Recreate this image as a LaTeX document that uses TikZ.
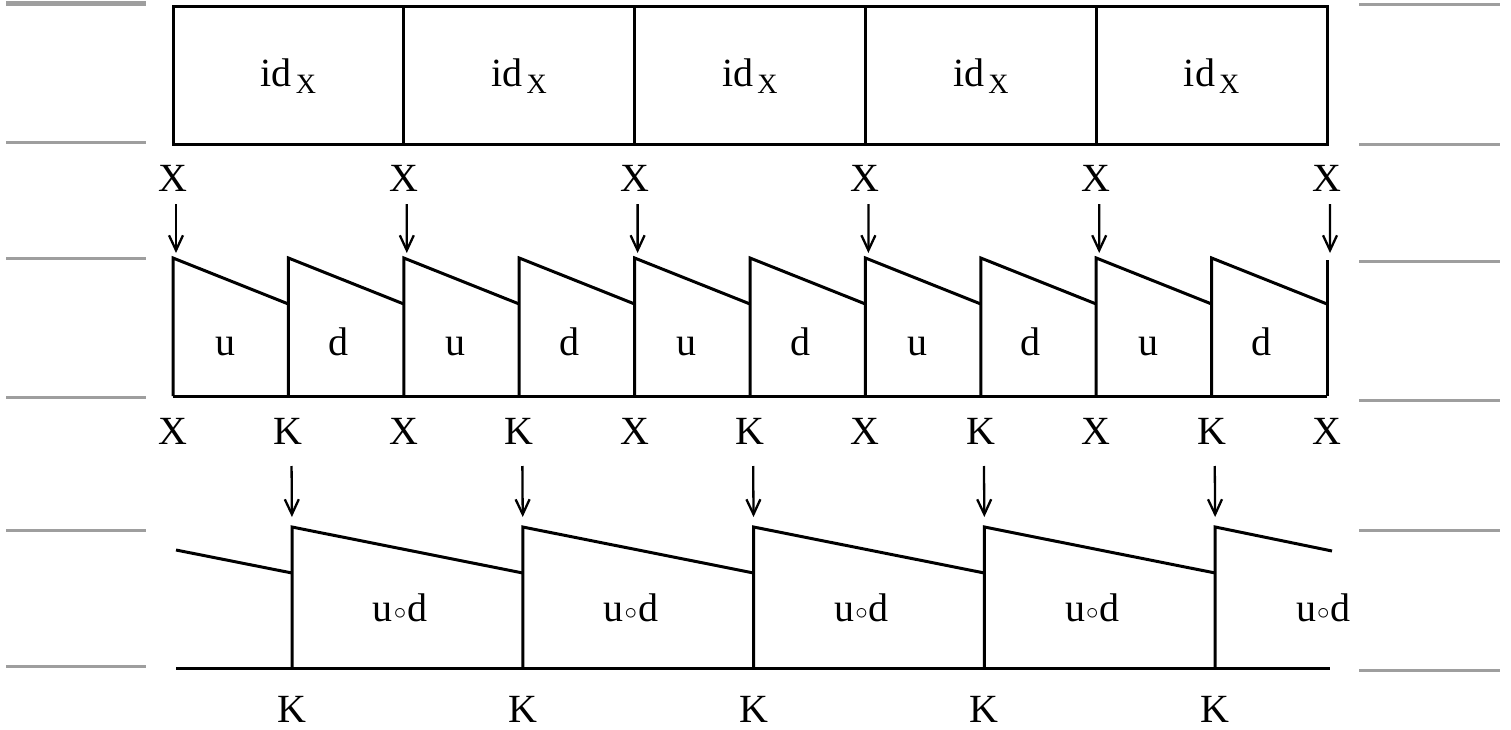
\documentclass[tikz,border=0pt]{standalone}
\usepackage{fontspec}
\setmainfont{Liberation Serif}
\usetikzlibrary{arrows.meta,calc}
\begin{document}
\begin{tikzpicture}[x=1pt,y=-1pt,
  blk/.style={line width=3pt, line join=miter},
  grayln/.style={draw=black!38, line width=3pt},
  lab/.style={inner sep=0pt, anchor=base, font=\fontsize{40}{44}\selectfont},
  idbox/.style={draw, line width=3pt, minimum width=230.8pt, minimum height=138pt, inner sep=0pt, font=\fontsize{40}{44}\selectfont},
  arr/.style={line width=2.3pt, -{Straight Barb[length=15pt,width=14pt,line width=2.3pt]}}]
\useasboundingbox (0,0) rectangle (1511,730);
% gray rules
\draw[grayln, line width=5pt] (6,3.5) -- (146,3.5);
\foreach \y in {143,258,397,530,666} \draw[grayln] (6,\y) -- (146,\y);
\foreach \y in {5,145,261,400,530,670} \draw[grayln] (1359,\y) -- (1500,\y);
% top boxes
\foreach \i in {0,...,4}
  \node[idbox] (id\i) at ({173+230.8*\i+115.4},76) {id\kern4pt\raisebox{-7pt}{\fontsize{28}{30}\selectfont X}};
% top X labels
\foreach \i in {0,...,5}
  \node[lab] (xt\i) at ({173+230.8*\i},192) {X};
% middle cells
\foreach \i in {0,...,10} {
  \coordinate (ct\i) at ({173+115.4*\i},258);
  \coordinate (cb\i) at ({173+115.4*\i},396);
}
\foreach \i in {0,...,5} {
  \pgfmathtruncatemacro\j{2*\i}
  \draw[arr, shorten <=12pt, shorten >=5pt] ([xshift=3pt]xt\i.base) -- ([xshift=3pt]ct\j);
}
\foreach \i in {0,...,9} {
  \pgfmathtruncatemacro\k{\i+1}
  \draw[blk] (cb\i) -- (ct\i) -- ($(ct\k)+(0,46)$);
}
\draw[blk] (cb0) -- (cb10);
\draw[blk] (cb10) -- ($(ct10)+(0,2)$);
\foreach \i in {0,...,9} {
  \ifodd\i
    \node[lab] (ud\i) at ({173+115.4*\i+50},355) {d};
  \else
    \node[lab] (ud\i) at ({173+115.4*\i+52},355) {u};
  \fi
}
% X / K row
\foreach \i in {0,...,10} {
  \ifodd\i
    \node[lab] (r\i) at ({173+115.4*\i},444) {K};
  \else
    \node[lab] (r\i) at ({173+115.4*\i},444) {X};
  \fi
}
% bottom row
\foreach \j in {0,...,4} {
  \coordinate (bt\j) at ({292+230.8*\j},527);
  \coordinate (bb\j) at ({292+230.8*\j},668);
}
\foreach \j in {0,...,4} {
  \pgfmathtruncatemacro\k{2*\j+1}
  \draw[arr, shorten <=22pt, shorten >=10pt] ([xshift=3pt]r\k.base) -- (bt\j);
}
\foreach \j in {0,...,3} {
  \pgfmathtruncatemacro\k{\j+1}
  \draw[blk] (bb\j) -- (bt\j) -- ($(bt\k)+(0,46)$);
}
\coordinate (eL) at (176,550);
\coordinate (eR) at (1332,551);
\coordinate (bl) at (176,668);
\coordinate (br) at (1330,668);
\draw[blk] (bb4) -- (bt4) -- (eR);
\draw[blk] (eL) -- ($(bt0)+(0,46)$);
\draw[blk] (bl) -- (br);
\foreach \j in {0,...,4} {
  \node[lab] (ud\j c) at ({292+230.8*\j+108},621) {u\kern1pt\raisebox{2pt}{$\scriptstyle\circ$}\kern1pt d};
  \node[lab] (kb\j) at ({292+230.8*\j},722) {K};
}
\end{tikzpicture}
\end{document}
